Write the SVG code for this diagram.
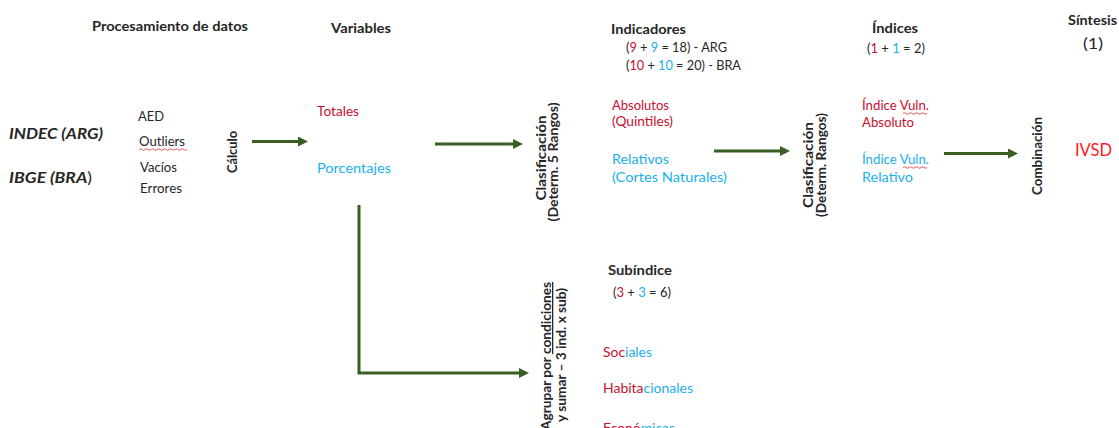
<svg xmlns="http://www.w3.org/2000/svg" width="1119" height="428" viewBox="0 0 1119 428">
  <style>
    text { font-family: Lato, "Open Sans", "Liberation Sans", sans-serif; font-size: 13px; fill: #262626; }
    .b { font-weight: bold; }
    .bi { font-weight: bold; font-style: italic; font-size: 16px; }
    .r { fill: #c8102e; }
    .c { fill: #1ab0ec; }
    .big { font-size: 16px; }
    .ivsd { font-size: 18px; fill: #ff1a1a; }
    .flow { fill: none; stroke: #3b5e22; stroke-width: 3; }
    .squig { fill: none; stroke: #e03030; stroke-width: 0.8; }
  </style>
  <defs>
    <marker id="head" viewBox="0 0 10 10" markerWidth="10" markerHeight="10" markerUnits="userSpaceOnUse" refX="4" refY="5" orient="auto">
      <path d="M0,0 L10,5 L0,10 Z" fill="#3b5e22"/>
    </marker>
  </defs>

  <rect width="1119" height="428" fill="#ffffff"/>

  <!-- column headings -->
  <g id="headings">
    <text class="b" x="92" y="31" textLength="156" lengthAdjust="spacingAndGlyphs">Procesamiento de datos</text>
    <text class="b" x="331" y="33" textLength="60" lengthAdjust="spacingAndGlyphs">Variables</text>
    <text class="b" x="611" y="34" textLength="75" lengthAdjust="spacingAndGlyphs">Indicadores</text>
    <text x="626" y="52" textLength="101" lengthAdjust="spacingAndGlyphs">(<tspan class="r">9</tspan> + <tspan class="c">9</tspan> = 18) - ARG</text>
    <text x="626" y="70" textLength="115" lengthAdjust="spacingAndGlyphs">(<tspan class="r">10</tspan> + <tspan class="c">10</tspan> = 20) - BRA</text>
    <text class="b" x="872" y="33" textLength="46" lengthAdjust="spacingAndGlyphs">Índices</text>
    <text x="867" y="53" textLength="58" lengthAdjust="spacingAndGlyphs">(<tspan class="r">1</tspan> + <tspan class="c">1</tspan> = 2)</text>
    <text class="b" x="1068" y="25" textLength="49" lengthAdjust="spacingAndGlyphs">Síntesis</text>
    <text class="big" x="1083" y="49" textLength="20" lengthAdjust="spacingAndGlyphs">(1)</text>
  </g>

  <!-- data sources -->
  <g id="sources">
    <text class="bi" x="9" y="139" textLength="94" lengthAdjust="spacingAndGlyphs">INDEC (ARG)</text>
    <text class="bi" x="9" y="183" textLength="83" lengthAdjust="spacingAndGlyphs">IBGE (BRA<tspan font-weight="normal" font-style="normal">)</tspan></text>
  </g>

  <!-- data processing steps -->
  <g id="processing">
    <text x="138" y="121" textLength="26" lengthAdjust="spacingAndGlyphs">AED</text>
    <text x="139" y="146" textLength="46" lengthAdjust="spacingAndGlyphs">Outliers</text>
    <path class="squig" d="M139,149.5 q1.5,-1.5 3,0 t3,0 t3,0 t3,0 t3,0 t3,0 t3,0 t3,0 t3,0 t3,0 t3,0 t3,0 t3,0 t3,0 t3,0 t3,0"/>
    <text x="140" y="172" textLength="37" lengthAdjust="spacingAndGlyphs">Vacíos</text>
    <text x="140" y="193" textLength="42" lengthAdjust="spacingAndGlyphs">Errores</text>
  </g>

  <g id="calculo">
    <text class="b" transform="translate(237,152) rotate(-90)" text-anchor="middle" textLength="42" lengthAdjust="spacingAndGlyphs">Cálculo</text>
  </g>

  <!-- variables -->
  <g id="variables">
    <text class="r" x="317" y="116" textLength="42" lengthAdjust="spacingAndGlyphs">Totales</text>
    <text class="c" x="317" y="173" textLength="74" lengthAdjust="spacingAndGlyphs">Porcentajes</text>
  </g>

  <g id="clasificacion1">
    <text class="b" transform="translate(546,158) rotate(-90)" text-anchor="middle" textLength="85" lengthAdjust="spacingAndGlyphs">Clasificación</text>
    <text class="b" transform="translate(558,162) rotate(-90)" text-anchor="middle" textLength="119" lengthAdjust="spacingAndGlyphs">(Determ. 5 Rangos)</text>
  </g>

  <!-- indicators -->
  <g id="indicadores">
    <text class="r" x="612" y="110" textLength="57" lengthAdjust="spacingAndGlyphs">Absolutos</text>
    <text class="r" x="612" y="126" textLength="61" lengthAdjust="spacingAndGlyphs">(Quintiles)</text>
    <text class="c" x="612" y="164" textLength="57" lengthAdjust="spacingAndGlyphs">Relativos</text>
    <text class="c" x="612" y="182" textLength="115" lengthAdjust="spacingAndGlyphs">(Cortes Naturales)</text>
  </g>

  <g id="clasificacion2">
    <text class="b" transform="translate(813,165) rotate(-90)" text-anchor="middle" textLength="86" lengthAdjust="spacingAndGlyphs">Clasificación</text>
    <text class="b" transform="translate(826,165) rotate(-90)" text-anchor="middle" textLength="104" lengthAdjust="spacingAndGlyphs">(Determ. Rangos)</text>
  </g>

  <!-- indices -->
  <g id="indices">
    <text class="r" x="862" y="110" textLength="67" lengthAdjust="spacingAndGlyphs">Índice Vuln.</text>
    <path class="squig" d="M903,113.5 q1.5,-1.5 3,0 t3,0 t3,0 t3,0 t3,0 t3,0 t3,0 t3,0"/>
    <text class="r" x="862" y="127" textLength="52" lengthAdjust="spacingAndGlyphs">Absoluto</text>
    <text class="c" x="862" y="164" textLength="67" lengthAdjust="spacingAndGlyphs">Índice Vuln.</text>
    <path class="squig" d="M903,167.5 q1.5,-1.5 3,0 t3,0 t3,0 t3,0 t3,0 t3,0 t3,0 t3,0"/>
    <text class="c" x="862" y="182" textLength="51" lengthAdjust="spacingAndGlyphs">Relativo</text>
  </g>

  <g id="combinacion">
    <text class="b" transform="translate(1042,156) rotate(-90)" text-anchor="middle" textLength="78" lengthAdjust="spacingAndGlyphs">Combinación</text>
  </g>

  <g id="sintesis">
    <text class="ivsd" x="1075" y="156" textLength="37" lengthAdjust="spacingAndGlyphs">IVSD</text>
  </g>

  <!-- grouping into sub-indices -->
  <g id="agrupar">
    <text class="b" transform="translate(551,282) rotate(-90)" text-anchor="end" textLength="148" lengthAdjust="spacingAndGlyphs">Agrupar por <tspan text-decoration="underline">condiciones</tspan></text>
    <text class="b" transform="translate(566,288) rotate(-90)" text-anchor="end" textLength="134" lengthAdjust="spacingAndGlyphs">y sumar – 3 ind. x sub)</text>
  </g>

  <g id="subindice">
    <text class="b" x="608" y="275" textLength="64" lengthAdjust="spacingAndGlyphs">Subíndice</text>
    <text x="613" y="297" textLength="58" lengthAdjust="spacingAndGlyphs">(<tspan class="r">3</tspan> + <tspan class="c">3</tspan> = 6)</text>
    <text x="603" y="357" textLength="49" lengthAdjust="spacingAndGlyphs"><tspan class="r">Soc</tspan><tspan class="c">iales</tspan></text>
    <text x="603" y="393" textLength="90" lengthAdjust="spacingAndGlyphs"><tspan class="r">Habita</tspan><tspan class="c">cionales</tspan></text>
    <text x="603" y="433" textLength="72" lengthAdjust="spacingAndGlyphs"><tspan class="r">Econó</tspan><tspan class="c">micas</tspan></text>
  </g>

  <!-- connectors -->
  <g id="connectors">
    <path class="flow" d="M252,141.5 H302" marker-end="url(#head)"/>
    <path class="flow" d="M435,144 H517" marker-end="url(#head)"/>
    <path class="flow" d="M714,151 H784" marker-end="url(#head)"/>
    <path class="flow" d="M944,153.5 H1012" marker-end="url(#head)"/>
    <path class="flow" d="M359,205 V373 H523" marker-end="url(#head)"/>
  </g>
</svg>
